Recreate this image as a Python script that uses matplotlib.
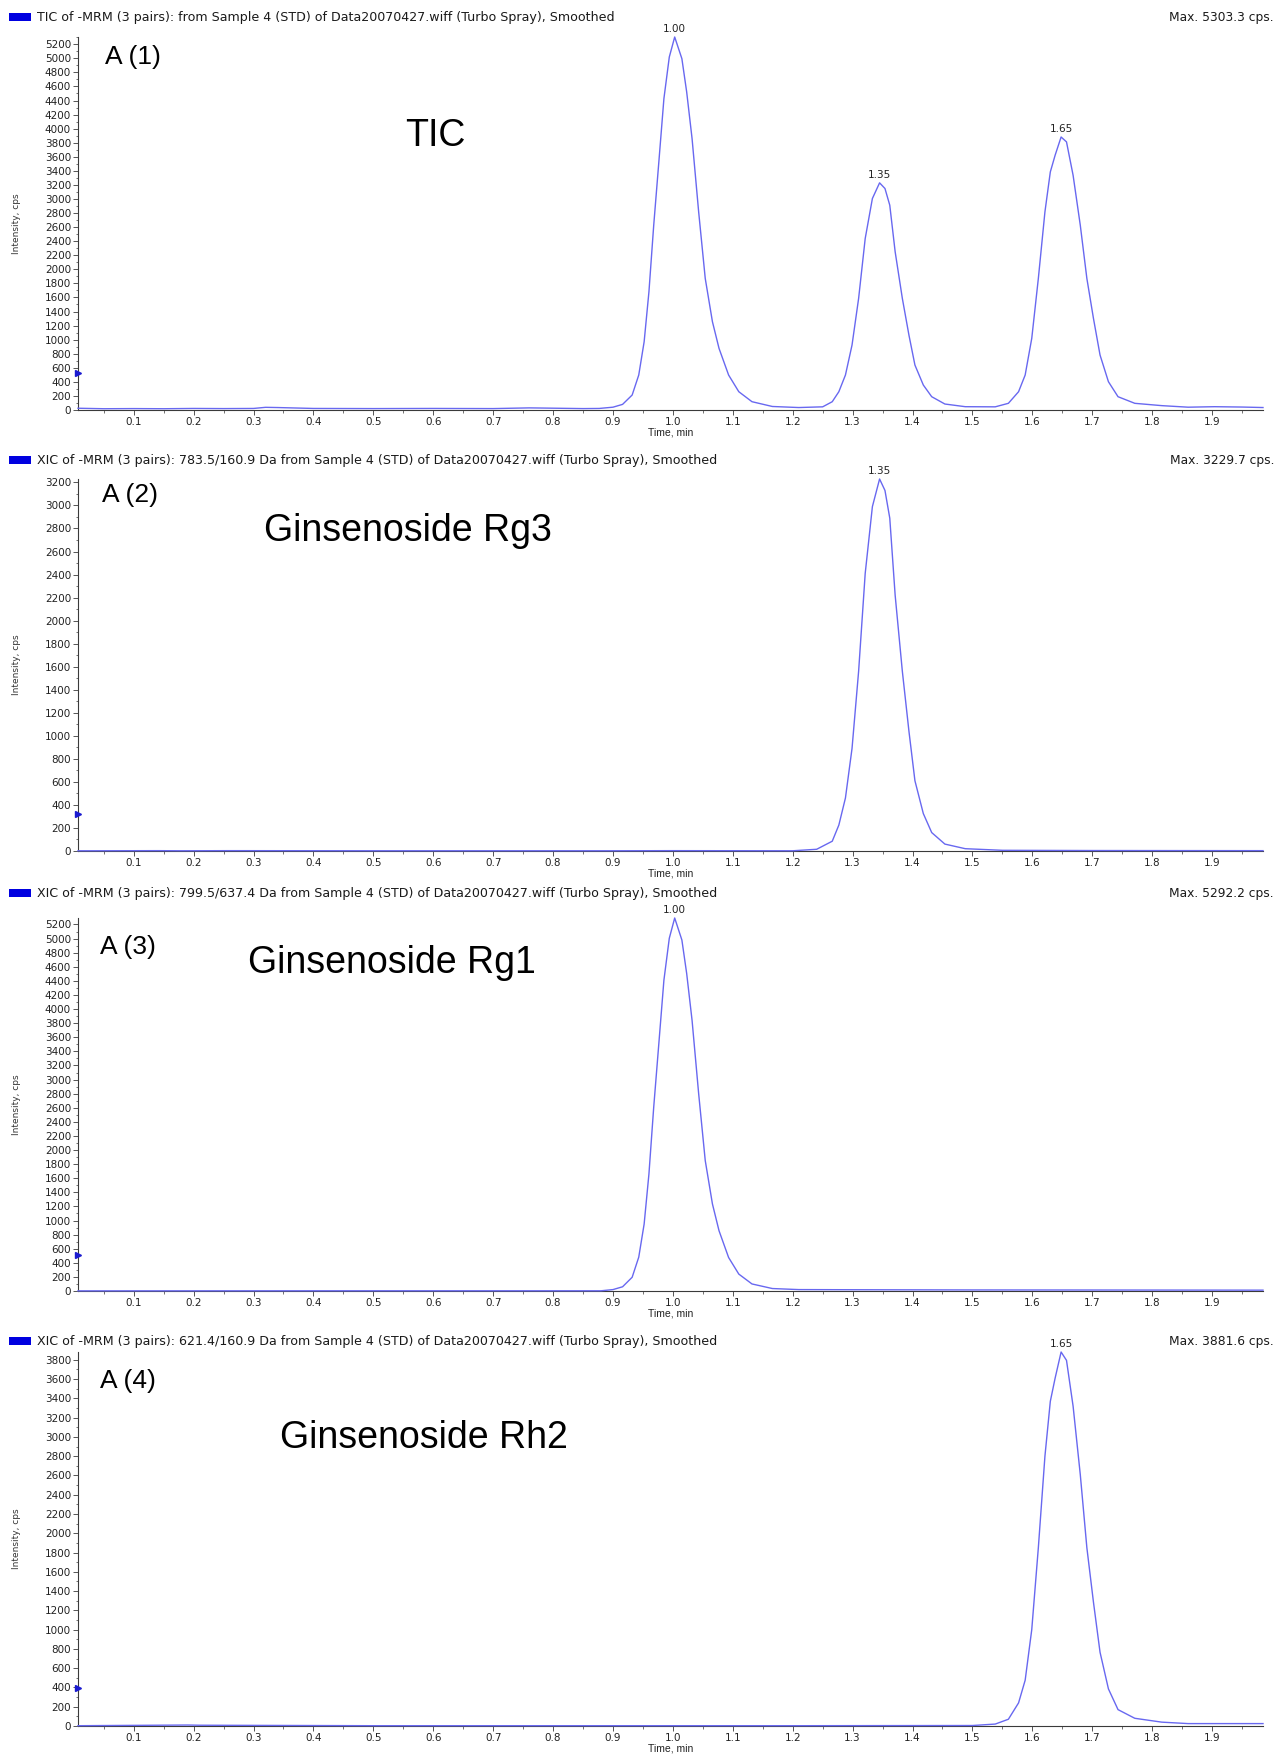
import matplotlib
matplotlib.use("Agg")
import matplotlib.pyplot as plt
from matplotlib.patches import Rectangle
from matplotlib.ticker import MultipleLocator, FormatStrFormatter

# ---- data (time in min, intensity in cps) ----
tic_time = [0.007, 0.05, 0.1, 0.15, 0.2, 0.25, 0.3, 0.32, 0.34, 0.4, 0.5, 0.6, 0.7, 0.76, 0.78,
            0.85, 0.877, 0.9, 0.916, 0.932, 0.943, 0.952, 0.960, 0.968, 0.977, 0.985, 0.994,
            1.003, 1.015, 1.023, 1.032, 1.043, 1.054, 1.066, 1.077, 1.093, 1.110, 1.132, 1.166,
            1.21, 1.25, 1.266, 1.277, 1.288, 1.299, 1.310, 1.321, 1.333, 1.345, 1.354, 1.362,
            1.371, 1.383, 1.394, 1.404, 1.418, 1.432, 1.454, 1.488, 1.538, 1.560, 1.577, 1.588,
            1.599, 1.610, 1.621, 1.630, 1.638, 1.648, 1.657, 1.668, 1.680, 1.691, 1.702, 1.713,
            1.727, 1.743, 1.771, 1.816, 1.860, 1.904, 1.95, 1.985]
tic_int = [25, 18, 20, 18, 22, 20, 22, 38, 35, 22, 20, 22, 20, 30, 28,
           20, 22, 40, 80, 213, 497, 970, 1680, 2628, 3575, 4427, 5019,
           5303.3, 4995, 4522, 3859, 2817, 1870, 1255, 876, 497, 260, 118, 50,
           35, 45, 118, 260, 497, 923, 1586, 2438, 3007, 3229.7, 3149, 2912,
           2249, 1586, 1065, 639, 355, 189, 85, 47, 45, 95, 260, 497,
           1018, 1870, 2817, 3385, 3622, 3881.6, 3812, 3338, 2628, 1870, 1302, 781,
           402, 189, 95, 62, 40, 47, 42, 35]

rg3_time = [0.007, 0.03, 0.14, 0.18, 0.26, 0.5, 0.9, 1.0, 1.2, 1.24, 1.266, 1.277, 1.288, 1.299,
            1.310, 1.321, 1.333, 1.345, 1.354, 1.362, 1.371, 1.383, 1.394, 1.404, 1.418, 1.432,
            1.454, 1.488, 1.55, 1.7, 1.985]
rg3_int = [2, 2, 3, 2, 3, 2, 2, 3, 2, 15, 85, 225, 460, 890,
           1560, 2410, 2990, 3229.7, 3130, 2890, 2220, 1560, 1040, 610, 325, 160,
           60, 20, 6, 4, 3]

rg1_time = [0.007, 0.5, 0.88, 0.9, 0.916, 0.932, 0.943, 0.952, 0.960, 0.968, 0.977, 0.985, 0.994,
            1.003, 1.015, 1.023, 1.032, 1.043, 1.054, 1.066, 1.077, 1.093, 1.110, 1.132, 1.166,
            1.21, 1.3, 1.5, 1.7, 1.985]
rg1_int = [2, 3, 3, 20, 60, 195, 480, 950, 1660, 2610, 3560, 4410, 5005,
           5292.2, 4980, 4505, 3840, 2800, 1850, 1235, 855, 475, 240, 100, 35,
           20, 18, 15, 14, 12]

rh2_time = [0.007, 0.19, 0.21, 0.5, 0.9, 1.2, 1.5, 1.538, 1.560, 1.577, 1.588, 1.599, 1.610,
            1.621, 1.630, 1.638, 1.648, 1.657, 1.668, 1.680, 1.691, 1.702, 1.713, 1.727, 1.743,
            1.771, 1.816, 1.86, 1.904, 1.95, 1.985]
rh2_int = [3, 10, 8, 3, 3, 3, 5, 20, 70, 240, 475, 1000, 1850,
           2800, 3370, 3610, 3881.6, 3795, 3320, 2610, 1850, 1285, 765, 385, 170,
           80, 40, 25, 25, 25, 25]

headers = ["TIC of -MRM (3 pairs): from Sample 4 (STD) of Data20070427.wiff (Turbo Spray), Smoothed",
           "XIC of -MRM (3 pairs): 783.5/160.9 Da from Sample 4 (STD) of Data20070427.wiff (Turbo Spray), Smoothed",
           "XIC of -MRM (3 pairs): 799.5/637.4 Da from Sample 4 (STD) of Data20070427.wiff (Turbo Spray), Smoothed",
           "XIC of -MRM (3 pairs): 621.4/160.9 Da from Sample 4 (STD) of Data20070427.wiff (Turbo Spray), Smoothed"]
panel_tags = ["A (1)", "A (2)", "A (3)", "A (4)"]
compound_names = ["TIC", "Ginsenoside Rg3", "Ginsenoside Rg1", "Ginsenoside Rh2"]
peak_times = [[1.003, 1.345, 1.648], [1.345], [1.003], [1.648]]
peak_labels = [["1.00", "1.35", "1.65"], ["1.35"], ["1.00"], ["1.65"]]
threshold = [525, 320, 515, 390]

traces = [(tic_time, tic_int), (rg3_time, rg3_int), (rg1_time, rg1_int), (rh2_time, rh2_int)]

# ---- layout, in pixels of the 1275x1754 page ----
W, H = 1275, 1754
ax_left, ax_right = 78, 1263
ax_rows = [(37, 410), (479, 851), (918, 1291), (1352, 1726)]   # (top, bottom)
header_y = [17, 460, 893, 1341]
tag_xy = [(105, 57), (102, 495), (100, 947), (100, 1381)]
name_xy = [(405, 136), (264, 531), (248, 963), (280, 1438)]

line_col = "#6868f0"
txt_col = "#1a1a1a"

fig = plt.figure(figsize=(W / 100, H / 100), dpi=100)

for i in range(4):
    top, bottom = ax_rows[i]
    ax = fig.add_axes([ax_left / W, 1 - bottom / H, (ax_right - ax_left) / W, (bottom - top) / H])
    t, y = traces[i]
    ax.plot(t, y, color=line_col, lw=1.0, zorder=3, clip_on=False)
    ymax = max(y)
    ax.set_xlim(0.007, 1.985)
    ax.set_ylim(0, ymax)

    for side in ["top", "right"]:
        ax.spines[side].set_visible(False)
    for side in ["left", "bottom"]:
        ax.spines[side].set_color("#3a3a3a")
        ax.spines[side].set_linewidth(0.8)

    ax.xaxis.set_major_locator(MultipleLocator(0.1))
    ax.xaxis.set_minor_locator(MultipleLocator(0.05))
    ax.xaxis.set_major_formatter(FormatStrFormatter("%.1f"))
    ax.yaxis.set_major_locator(MultipleLocator(200))
    ax.yaxis.set_minor_locator(MultipleLocator(100))
    ax.tick_params(which="major", length=3.5, width=0.6, color="#3a3a3a", labelsize=7.5,
                   labelcolor="#222222", pad=1.5)
    ax.tick_params(which="minor", length=1.8, width=0.5, color="#3a3a3a")

    ax.set_xlabel("Time, min", fontsize=7.5, family="Liberation Sans", color="#222222")
    ax.xaxis.set_label_coords(0.5, -0.048)
    ax.set_ylabel("Intensity, cps", fontsize=6.5, color="#333333")
    ax.yaxis.set_label_coords(-0.048, 0.5)

    # threshold marker on the y axis
    ax.plot([0.007], [threshold[i]], marker=">", color="#1a1ad0", ms=5, clip_on=False, zorder=4)

    # peak retention time labels, placed on the apex of each peak
    for pt, pl in zip(peak_times[i], peak_labels[i]):
        apex = y[t.index(pt)]
        ax.annotate(pl, xy=(pt, apex), xytext=(0, 2), textcoords="offset points",
                    ha="center", va="bottom", fontsize=7.5, color="#222222", annotation_clip=False)

    # header line with blue square and max label
    hy = 1 - header_y[i] / H
    fig.patches.append(Rectangle((9 / W, hy - 4 / H), 22 / W, 8 / H, transform=fig.transFigure,
                                 facecolor="#0000e0", edgecolor="none"))
    fig.text(37 / W, hy, headers[i], fontsize=9.1, va="center", ha="left", color=txt_col)
    fig.text(1274 / W, hy, f"Max. {ymax:.1f} cps.", fontsize=8.8, va="center", ha="right",
             color=txt_col)

    tx, ty = tag_xy[i]
    fig.text(tx / W, 1 - ty / H, panel_tags[i], fontsize=19, family="Liberation Sans",
             va="center", ha="left")
    nx, ny = name_xy[i]
    fig.text(nx / W, 1 - ny / H, compound_names[i], fontsize=27, family="Liberation Sans",
             va="center", ha="left")

fig.savefig("out.png", dpi=100)
